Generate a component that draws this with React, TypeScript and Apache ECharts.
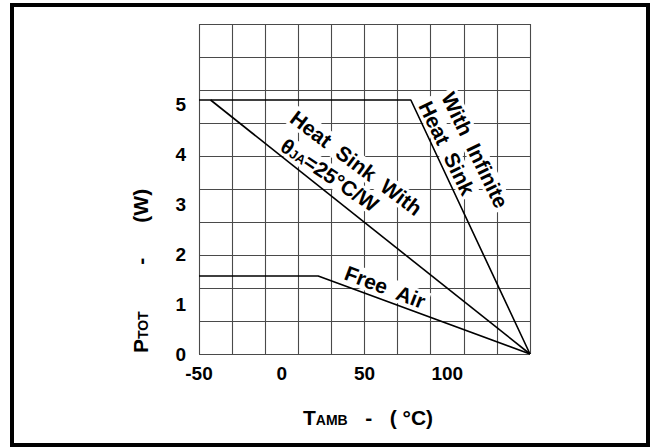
import { useEffect, useRef } from "react";
import * as echarts from "echarts";

// Axis tick labels
const xTickLabels = [-50, 0, 50, 100];
const yTickLabels = [0, 1, 2, 3, 4, 5];

// Curves: ambient temperature (°C) vs total power (W)
const infiniteSinkX = [-50, 78, 150];
const infiniteSinkY = [5.08, 5.08, 0];
const heatSink25X = [-43, 150];
const heatSink25Y = [5.08, 0];
const freeAirX = [-50, 22, 150];
const freeAirY = [1.56, 1.56, 0];

// Annotations
const annotationTexts = [
  "{t|With  Infinite}",
  "{t|Heat  Sink}",
  "{t|Heat  Sink  With}",
  "{t|θ}{s|JA}{t|=25°C/W}",
  "{t|Free  Air}",
];
const annotationX = [116.8, 99.8, 45.0, 29.0, 62.4];
const annotationY = [4.08, 4.12, 3.82, 3.58, 1.34];
const annotationAngle = [-64, -64, -37, -34, -21];

const FONT = "'Liberation Sans', Arial, Helvetica, sans-serif";

const zip = (xs: number[], ys: number[]) => xs.map((x, i) => [x, ys[i]]);

export default function App() {
  const ref = useRef<HTMLDivElement>(null);

  useEffect(() => {
    if (!ref.current) return;
    const chart = echarts.init(ref.current, null, { renderer: "svg" });
    const lineStyle = { color: "#000", width: 1.6, opacity: 1 };
    const gridLine = { show: true, lineStyle: { color: "#4a4a4a", width: 1.1 } };

    chart.setOption({
      animation: false,
      backgroundColor: "#fff",
      grid: { left: 199, top: 24, width: 331, height: 330, containLabel: false },
      xAxis: [
        {
          type: "value",
          min: -50,
          max: 150,
          interval: 50,
          axisLine: { show: false },
          axisTick: { show: false },
          splitLine: { show: false },
          axisLabel: {
            margin: 10,
            color: "#000",
            fontSize: 19,
            fontWeight: "bold",
            fontFamily: FONT,
            formatter: (v: number) => (xTickLabels.includes(v) ? String(v) : ""),
          },
        },
        {
          type: "value",
          min: 0,
          max: 10,
          interval: 1,
          position: "top",
          axisLine: { show: false },
          axisTick: { show: false },
          axisLabel: { show: false },
          splitLine: gridLine,
        },
      ],
      yAxis: [
        {
          type: "value",
          min: 0,
          max: 6.6,
          interval: 1,
          axisLine: { show: false },
          axisTick: { show: false },
          splitLine: { show: false },
          axisLabel: {
            margin: 13,
            color: "#000",
            fontSize: 19,
            fontWeight: "bold",
            fontFamily: FONT,
            formatter: (v: number) => (yTickLabels.includes(v) ? String(v) : ""),
          },
        },
        {
          type: "value",
          min: 0,
          max: 10,
          interval: 1,
          position: "right",
          axisLine: { show: false },
          axisTick: { show: false },
          axisLabel: { show: false },
          splitLine: gridLine,
        },
      ],
      series: [
        {
          name: "With Infinite Heat Sink",
          type: "line",
          data: zip(infiniteSinkX, infiniteSinkY),
          showSymbol: false,
          lineStyle,
          z: 3,
        },
        {
          name: "Heat Sink With θJA=25°C/W",
          type: "line",
          data: zip(heatSink25X, heatSink25Y),
          showSymbol: false,
          lineStyle,
          z: 3,
        },
        {
          name: "Free Air",
          type: "line",
          data: zip(freeAirX, freeAirY),
          showSymbol: false,
          lineStyle,
          z: 3,
        },
        {
          name: "labels",
          type: "scatter",
          z: 1,
          symbolSize: 1,
          itemStyle: { color: "#fff", opacity: 1 },
          silent: true,
          data: annotationTexts.map((t, i) => ({
            value: [annotationX[i], annotationY[i]],
            label: {
              show: true,
              position: "inside",
              formatter: t,
              rotate: annotationAngle[i],
              color: "#000",
              opacity: 1,
              textBorderWidth: 0,
              fontSize: 21,
              fontWeight: "bold",
              fontFamily: FONT,
              backgroundColor: "#fff",
              padding: [0, 3],
              rich: {
                t: { fontSize: 21, fontWeight: "bold", fontFamily: FONT, color: "#000", verticalAlign: "bottom" },
                s: { fontSize: 13, fontWeight: "bold", fontFamily: FONT, color: "#000", verticalAlign: "bottom", padding: [0, 0, 1, 0] },
              },
            },
          })),
        },
      ],
      graphic: [
        {
          type: "rect",
          shape: { x: 12, y: 5, width: 636, height: 440 },
          style: { fill: "none", stroke: "#000", lineWidth: 4 },
          silent: true,
        },
        {
          type: "text",
          x: 368,
          y: 417,
          style: {
            text: "{b|T}{s|AMB}{b|   -   ( °C)}",
            align: "center",
            verticalAlign: "middle",
            rich: {
              b: { fontSize: 21, fontWeight: "bold", fontFamily: FONT, fill: "#000", verticalAlign: "bottom" },
              s: { fontSize: 14, fontWeight: "bold", fontFamily: FONT, fill: "#000", verticalAlign: "bottom", padding: [0, 0, 1, 0] },
            },
          },
        },
        {
          type: "text",
          x: 140,
          y: 271,
          rotation: Math.PI / 2,
          style: {
            text: "{b|P}{s|TOT}{b|        -      (W)}",
            align: "center",
            verticalAlign: "middle",
            rich: {
              b: { fontSize: 21, fontWeight: "bold", fontFamily: FONT, fill: "#000", verticalAlign: "bottom" },
              s: { fontSize: 14, fontWeight: "bold", fontFamily: FONT, fill: "#000", verticalAlign: "bottom", padding: [0, 0, 1, 0] },
            },
          },
        },
      ],
    });

    return () => chart.dispose();
  }, []);

  return (
    <div
      ref={ref}
      style={{ position: "fixed", left: 0, top: 0, width: 655, height: 447, background: "#fff" }}
    />
  );
}
